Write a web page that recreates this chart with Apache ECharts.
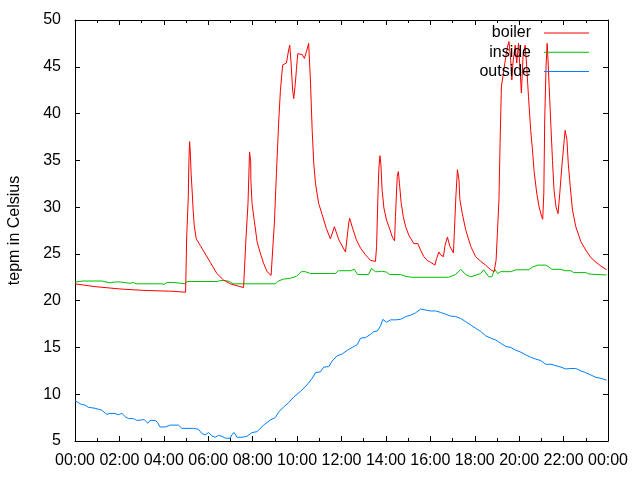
<!DOCTYPE html>
<html>
<head>
<meta charset="utf-8">
<script src="https://cdn.jsdelivr.net/npm/echarts@6/dist/echarts.min.js"></script>
<style>
  html, body { margin: 0; padding: 0; background: #fff; }
  #chart { width: 640px; height: 480px; }
</style>
</head>
<body>
<div id="chart"></div>
<script>
// time of day in hours, temperatures in Celsius
var boilerTime = [0.00, 0.90, 2.03, 3.07, 4.42, 4.98, 5.03, 5.10, 5.13, 5.16, 5.19, 5.23, 5.28, 5.32, 5.37, 5.46, 5.64, 5.79, 6.09, 6.39, 6.69, 6.99, 7.29, 7.59, 7.67, 7.70, 7.79, 7.86, 7.91, 7.92, 7.97, 8.07, 8.20, 8.34, 8.49, 8.65, 8.83, 8.87, 8.98, 9.07, 9.17, 9.25, 9.35, 9.52, 9.62, 9.67, 9.73, 9.80, 9.85, 9.92, 9.97, 10.03, 10.23, 10.33, 10.42, 10.52, 10.60, 10.68, 10.75, 10.83, 10.97, 11.13, 11.32, 11.50, 11.68, 11.88, 12.18, 12.33, 12.37, 12.48, 12.67, 12.86, 13.08, 13.31, 13.53, 13.58, 13.64, 13.68, 13.73, 13.77, 13.83, 13.91, 14.03, 14.18, 14.29, 14.39, 14.43, 14.51, 14.56, 14.61, 14.69, 14.78, 14.89, 15.03, 15.26, 15.44, 15.56, 15.71, 15.86, 16.01, 16.21, 16.28, 16.39, 16.46, 16.59, 16.66, 16.77, 16.88, 17.04, 17.10, 17.15, 17.22, 17.29, 17.33, 17.44, 17.59, 17.82, 18.04, 18.27, 18.49, 18.72, 18.87, 18.91, 18.96, 19.02, 19.09, 19.14, 19.20, 19.29, 19.40, 19.47, 19.54, 19.62, 19.67, 19.72, 19.82, 19.89, 19.97, 20.04, 20.10, 20.18, 20.27, 20.33, 20.42, 20.52, 20.60, 20.67, 20.79, 20.90, 21.01, 21.06, 21.11, 21.15, 21.21, 21.26, 21.30, 21.35, 21.43, 21.50, 21.57, 21.66, 21.75, 21.83, 21.92, 22.03, 22.07, 22.15, 22.21, 22.30, 22.40, 22.55, 22.78, 23.00, 23.23, 23.46, 23.68, 23.94];
var boilerTemp = [21.8, 21.5, 21.25, 21.1, 21.0, 20.9, 26.9, 31.0, 35.0, 37.0, 36.0, 33.5, 31.5, 29.7, 28.0, 26.6, 25.9, 25.3, 24.1, 22.9, 22.2, 21.8, 21.6, 21.4, 21.2, 26.7, 30.4, 35.9, 34.9, 32.9, 30.4, 28.6, 26.3, 25.1, 24.0, 23.1, 22.7, 22.8, 28.4, 33.6, 39.0, 42.5, 45.2, 45.4, 46.8, 47.3, 45.4, 42.5, 41.6, 43.2, 44.7, 46.4, 46.3, 45.9, 46.6, 47.5, 43.6, 38.2, 34.7, 32.5, 30.4, 29.2, 27.7, 26.6, 27.9, 26.5, 25.2, 28.4, 28.8, 27.9, 26.5, 25.6, 24.9, 24.3, 24.2, 25.8, 31.1, 34.0, 35.5, 34.7, 31.8, 29.9, 28.6, 27.6, 26.8, 26.4, 29.0, 33.3, 33.8, 32.5, 30.4, 29.0, 27.9, 27.0, 26.1, 26.1, 25.4, 24.7, 24.3, 24.1, 23.8, 24.5, 25.2, 24.9, 24.7, 25.9, 26.8, 25.8, 25.1, 28.3, 31.1, 34.0, 32.9, 30.8, 29.3, 27.6, 25.8, 24.7, 24.2, 23.8, 23.3, 23.1, 22.9, 24.3, 27.2, 30.8, 36.8, 42.9, 44.3, 46.1, 47.1, 47.7, 45.7, 43.6, 45.4, 47.3, 45.4, 47.5, 44.7, 42.2, 46.4, 47.3, 45.4, 41.8, 38.2, 36.1, 33.9, 31.5, 30.0, 29.0, 28.7, 31.5, 39.3, 45.0, 47.5, 45.7, 42.9, 38.6, 35.0, 31.8, 30.0, 29.3, 31.5, 34.3, 37.2, 38.2, 37.2, 34.7, 32.2, 29.7, 27.9, 26.3, 25.4, 24.6, 24.1, 23.7, 23.3];

var insideTime = [0.00, 0.36, 1.22, 1.31, 1.58, 1.80, 2.03, 2.12, 2.48, 2.62, 2.75, 3.70, 3.79, 3.88, 4.01, 4.15, 4.42, 4.51, 4.96, 5.05, 5.77, 5.86, 5.95, 6.41, 6.54, 6.77, 6.95, 7.13, 9.02, 9.16, 9.38, 9.70, 9.97, 10.19, 10.37, 10.60, 11.73, 11.86, 12.40, 12.58, 12.72, 13.22, 13.35, 13.53, 13.67, 13.80, 14.03, 14.16, 14.66, 14.89, 15.16, 16.60, 16.69, 16.82, 17.14, 17.37, 17.59, 17.82, 18.27, 18.40, 18.63, 18.77, 18.90, 19.03, 19.17, 19.62, 19.85, 20.43, 20.61, 20.84, 21.20, 21.34, 21.47, 21.88, 22.06, 22.33, 22.46, 23.00, 23.14, 23.46, 23.94];
var insideTemp = [22.0, 22.1, 22.1, 22.0, 21.9, 22.0, 22.0, 21.85, 21.85, 21.95, 21.8, 21.8, 21.7, 21.8, 21.75, 21.95, 21.95, 21.8, 21.8, 22.05, 22.05, 22.2, 22.05, 22.05, 22.15, 22.15, 22.05, 21.8, 21.8, 22.1, 22.3, 22.4, 22.6, 23.1, 23.1, 22.9, 22.9, 23.2, 23.2, 23.35, 22.8, 22.8, 23.45, 23.1, 23.1, 23.15, 23.05, 22.8, 22.8, 22.6, 22.5, 22.5, 22.65, 22.5, 22.8, 23.35, 22.8, 22.55, 22.9, 23.3, 22.55, 22.55, 23.35, 22.9, 23.1, 23.1, 23.3, 23.3, 23.6, 23.8, 23.8, 23.6, 23.35, 23.35, 23.2, 23.2, 23.0, 23.0, 22.85, 22.8, 22.75];

var outsideTime = [0.00, 0.15, 0.30, 0.45, 0.60, 0.90, 1.20, 1.43, 1.58, 1.80, 1.95, 2.11, 2.26, 2.40, 2.63, 2.78, 3.01, 3.11, 3.28, 3.38, 3.61, 3.71, 3.83, 4.06, 4.29, 4.66, 4.81, 5.34, 5.56, 5.71, 5.86, 6.01, 6.17, 6.31, 6.46, 6.62, 6.77, 6.99, 7.07, 7.17, 7.29, 7.34, 7.52, 7.74, 7.97, 8.20, 8.49, 8.80, 9.02, 9.17, 9.40, 9.62, 9.85, 10.15, 10.45, 10.68, 10.83, 11.05, 11.20, 11.43, 11.58, 11.80, 12.03, 12.26, 12.48, 12.71, 12.86, 13.08, 13.31, 13.46, 13.61, 13.76, 13.86, 14.03, 14.21, 14.43, 14.66, 14.89, 15.11, 15.34, 15.56, 15.79, 16.01, 16.24, 16.46, 16.69, 16.91, 17.14, 17.37, 17.59, 17.82, 18.04, 18.27, 18.49, 18.72, 18.94, 19.17, 19.40, 19.62, 19.85, 20.07, 20.30, 20.52, 20.75, 20.97, 21.20, 21.43, 21.65, 21.88, 22.10, 22.33, 22.55, 22.78, 23.00, 23.23, 23.46, 23.68, 23.94];
var outsideTemp = [9.3, 9.1, 8.9, 8.85, 8.6, 8.5, 8.3, 7.85, 7.95, 7.95, 7.8, 7.95, 7.6, 7.4, 7.4, 7.2, 7.25, 7.3, 6.9, 7.2, 7.2, 7.0, 6.5, 6.5, 6.7, 6.7, 6.35, 6.35, 6.25, 5.8, 5.65, 5.9, 5.55, 5.4, 5.6, 5.5, 5.3, 5.3, 5.7, 5.9, 5.4, 5.3, 5.4, 5.5, 5.9, 6.0, 6.7, 7.25, 7.5, 8.1, 8.65, 9.1, 9.7, 10.3, 11.0, 11.7, 12.3, 12.4, 12.9, 12.95, 13.55, 14.1, 14.3, 14.7, 15.0, 15.3, 16.0, 16.05, 16.4, 16.7, 16.75, 17.3, 18.0, 17.7, 17.95, 17.95, 18.0, 18.3, 18.45, 18.7, 19.1, 19.0, 18.9, 18.9, 18.75, 18.55, 18.35, 18.3, 18.1, 17.75, 17.4, 17.05, 16.7, 16.25, 16.0, 15.8, 15.45, 15.1, 15.0, 14.7, 14.5, 14.2, 13.95, 13.75, 13.6, 13.2, 13.2, 13.05, 12.9, 12.7, 12.75, 12.75, 12.5, 12.3, 12.05, 11.8, 11.7, 11.5];

var seriesNames = ['boiler', 'inside', 'outside'];
var seriesColors = ['#ff0000', '#00c000', '#0080ff'];

function zip(t, v) {
    var out = [];
    for (var i = 0; i < t.length; i++) out.push([t[i], v[i]]);
    return out;
}

function hourLabel(v) {
    var h = Math.round(v) % 24;
    return (h < 10 ? '0' : '') + h + ':00';
}

var FONT = 'Liberation Sans';

var chart = echarts.init(document.getElementById('chart'));

// gnuplot-like box: ticks inward on all four sides
function xAx(pos, labels) {
    return {
        type: 'value', position: pos, min: 0, max: 24, interval: 2,
        axisLine: { show: true, onZero: false, lineStyle: { color: '#000', width: 1 } },
        axisTick: { show: true, inside: true, length: 5, lineStyle: { color: '#000' } },
        minorTick: { show: true, splitNumber: 2, length: 3, lineStyle: { color: '#000' } },
        splitLine: { show: false },
        axisLabel: {
            show: labels, color: '#000', fontFamily: FONT, fontSize: 16, margin: 12,
            formatter: hourLabel
        }
    };
}
function yAx(pos, labels) {
    return {
        type: 'value', position: pos, min: 5, max: 50, interval: 5,
        axisLine: { show: true, onZero: false, lineStyle: { color: '#000', width: 1 } },
        axisTick: { show: true, inside: true, length: 5, lineStyle: { color: '#000' } },
        splitLine: { show: false },
        axisLabel: { show: labels, color: '#000', fontFamily: FONT, fontSize: 16, margin: 14 }
    };
}

var yLeft = yAx('left', true);
yLeft.name = 'tepm in Celsius';
yLeft.nameLocation = 'middle';
yLeft.nameGap = 52;
yLeft.nameTextStyle = { color: '#000', fontFamily: FONT, fontSize: 16 };

var legends = [];
var series = [];
var sets = [zip(boilerTime, boilerTemp), zip(insideTime, insideTemp), zip(outsideTime, outsideTemp)];
for (var i = 0; i < seriesNames.length; i++) {
    legends.push({
        data: [seriesNames[i]],
        right: 51, top: 25 + i * 19.3,
        padding: 0, align: 'right',
        icon: 'rect', itemWidth: 45, itemHeight: 1,
        textStyle: { color: '#000', fontFamily: FONT, fontSize: 16, padding: [0, 8, 0, 0] }
    });
    series.push({
        name: seriesNames[i],
        type: 'line',
        data: sets[i],
        symbol: 'none',
        color: seriesColors[i],
        lineStyle: { width: 1, color: seriesColors[i] },
        z: 3 - i
    });
}

var option = {
    animation: false,
    backgroundColor: '#fff',
    grid: { left: 75, right: 32, top: 20, bottom: 39, outerBoundsMode: 'none' },
    legend: legends,
    xAxis: [xAx('bottom', true), xAx('top', false)],
    yAxis: [yLeft, yAx('right', false)],
    series: series
};

chart.setOption(option);
</script>
</body>
</html>
